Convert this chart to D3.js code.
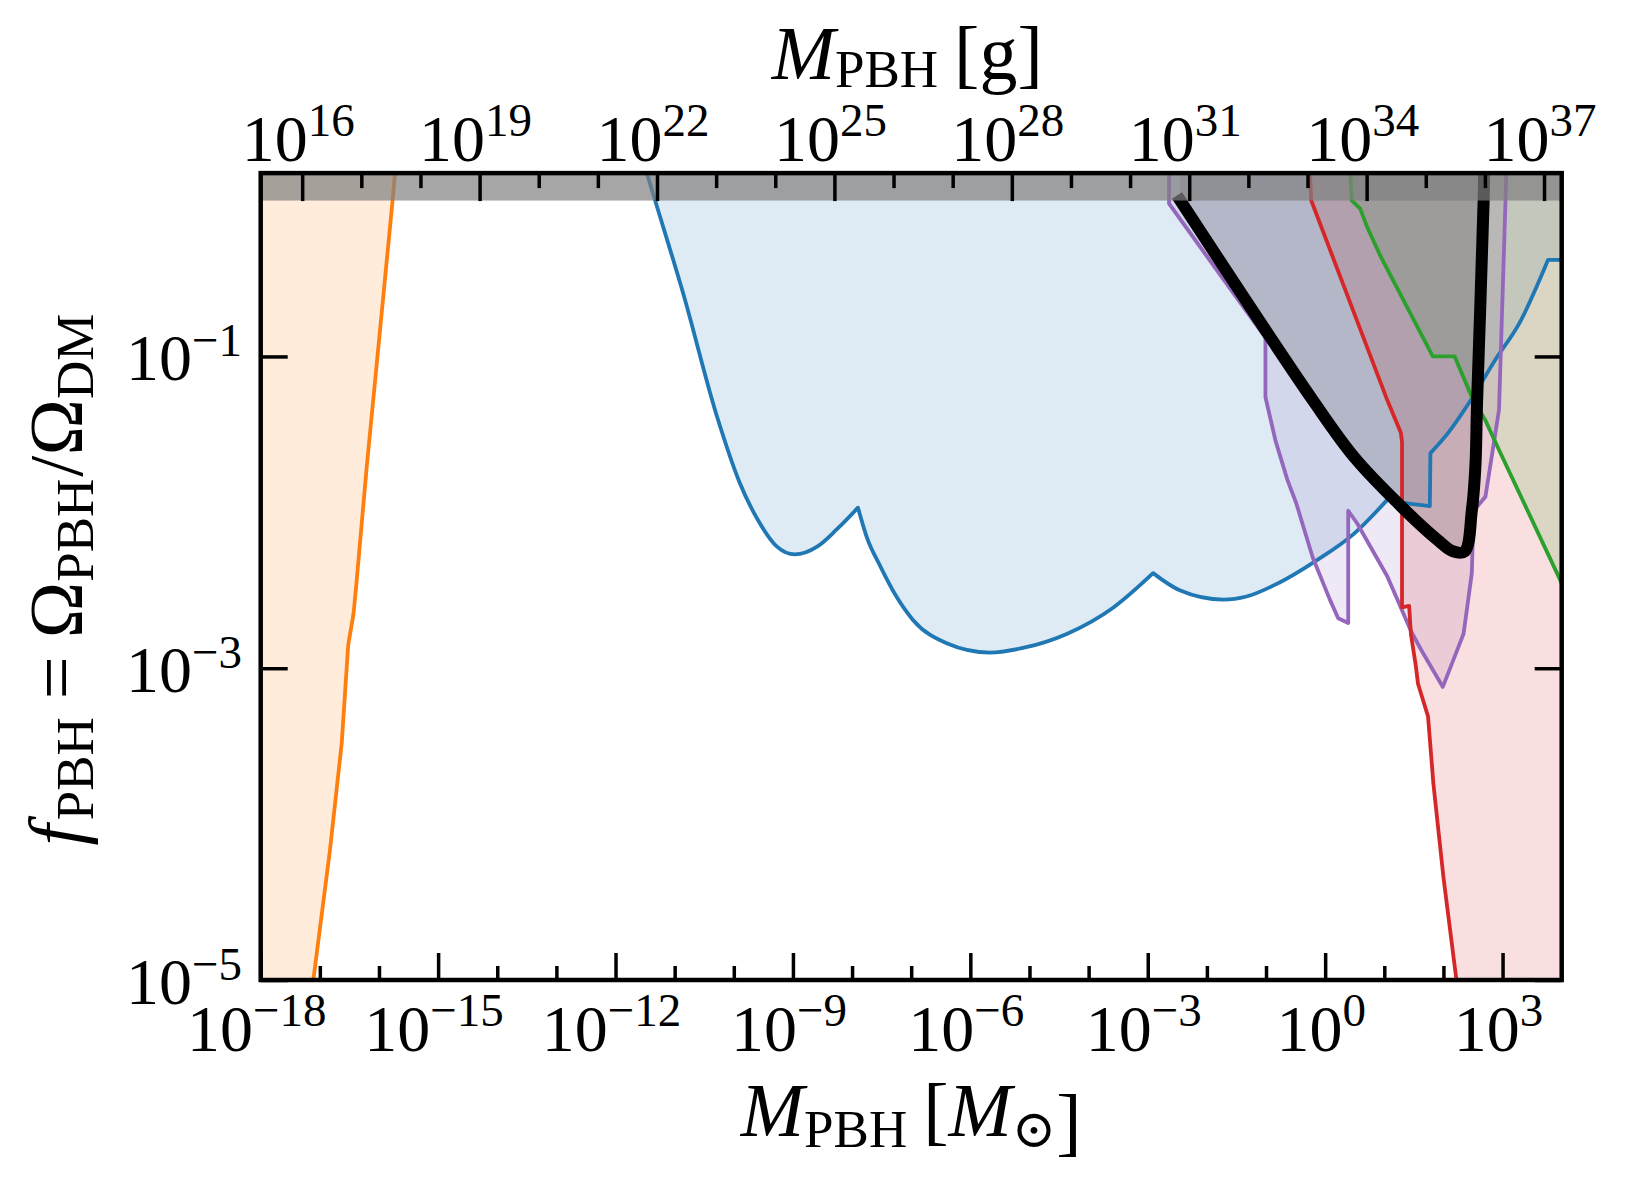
<!DOCTYPE html>
<html>
<head>
<meta charset="utf-8">
<script src="https://cdn.jsdelivr.net/npm/d3@7"></script>
<style>
  body { margin: 0; background: #fff; }
  svg { display: block; }
  text { font-family: "Liberation Serif", "Times New Roman", serif; fill: #000; }
</style>
</head>
<body>
<div id="chart"></div>
<script>
// Constraint curves, as [log10(M / Msun), log10(f_PBH)]
const evaporation = [[-15.70, 0.30], [-15.77, 0.00], [-16.00, -0.90], [-16.21, -1.72], [-16.38, -2.45],
  [-16.43, -2.65], [-16.52, -2.85], [-16.63, -3.48], [-16.83, -4.17], [-17.11, -5.00], [-17.21, -5.30]];

// blue bound, split at its kinks (each piece is drawn smooth)
const microlensing = [
  [[-11.49, 0.20], [-11.33, 0.00], [-10.86, -0.59], [-10.28, -1.39], [-9.90, -1.81], [-9.56, -2.07],
   [-9.27, -2.22], [-8.97, -2.27], [-8.59, -2.22], [-8.26, -2.11], [-7.90, -1.97]],
  [[-7.90, -1.97], [-7.75, -2.16], [-7.53, -2.34], [-7.25, -2.54], [-6.97, -2.69], [-6.40, -2.84],
   [-5.67, -2.90], [-5.11, -2.87], [-4.37, -2.78], [-3.58, -2.61], [-2.91, -2.39]],
  [[-2.91, -2.39], [-2.46, -2.50], [-1.72, -2.56], [-1.33, -2.54], [-0.77, -2.45], [-0.15, -2.31],
   [0.48, -2.14], [1.05, -1.92]],
  [[1.05, -1.92], [1.34, -1.94], [1.77, -1.96]],
  [[1.77, -1.96], [1.78, -1.62]],
  [[1.78, -1.62], [2.08, -1.49], [2.48, -1.27], [2.88, -1.02], [3.28, -0.79], [3.77, -0.38]],
  [[3.77, -0.38], [4.00, -0.38]]
];

const purpleBound = [[-2.64, 0.30], [-2.64, -0.02], [-1.01, -0.88], [-1.01, -1.26], [-0.84, -1.54],
  [-0.64, -1.79], [-0.49, -1.94], [-0.21, -2.29], [0.08, -2.56], [0.22, -2.68], [0.39, -2.71],
  [0.39, -1.99], [0.54, -2.07], [1.05, -2.41], [1.45, -2.76], [1.62, -2.88], [1.99, -3.12],
  [2.34, -2.78], [2.48, -2.39], [2.51, -1.99], [2.71, -1.90], [2.88, -1.49], [2.94, -1.34],
  [3.05, 0.00], [3.07, 0.30]];

const redBound = [[-0.26, 0.20], [-0.235, 0.00], [1.05, -1.28], [1.28, -1.49], [1.30, -1.55],
  [1.30, -2.61], [1.42, -2.60], [1.45, -2.78], [1.535, -2.99], [1.57, -3.10], [1.74, -3.31],
  [1.83, -3.74], [2.00, -4.34], [2.22, -5.00], [2.27, -5.30]];

const greenBound = [[0.41, 0.30], [0.45, 0.00], [0.59, -0.05], [0.71, -0.17], [0.94, -0.36],
  [1.82, -1.00], [2.19, -1.00], [2.48, -1.26], [2.71, -1.41], [2.94, -1.60], [3.97, -2.43],
  [4.00, -2.46]];

const combined = [[-2.45, 0.00], [-0.21, -1.28], [0.50, -1.65], [1.28, -1.96], [1.91, -2.18],
  [2.16, -2.25], [2.36, -2.25], [2.48, -1.99], [2.54, -1.71], [2.57, -1.28], [2.68, 0.00],
  [2.69, 0.30]];

// Tick exponents
const xTickExp = [-18, -15, -12, -9, -6, -3, 0, 3];
const gramTickExp = [16, 19, 22, 25, 28, 31, 34, 37];
const yTickExp = [-1, -3, -5];

const solarMassGrams = 1.989e33;

// Set the dimensions and margins of the graph
const width = 1630, height = 1183;
const margin = { top: 173.1, right: 68.3, bottom: 203, left: 260.7 };

const svg = d3.select("#chart")
    .append("svg")
    .attr("width", width)
    .attr("height", height);

svg.append("rect")
    .attr("width", width)
    .attr("height", height)
    .attr("fill", "white");

const x = d3.scaleLog()
    .domain([1e-18, 1e4])
    .range([margin.left, width - margin.right]);

const xg = d3.scaleLog()
    .domain([1e-18 * solarMassGrams, 1e4 * solarMassGrams])
    .range(x.range());

const y = d3.scaleLog()
    .domain([1e-5, 1.5])
    .range([height - margin.bottom, margin.top]);

const xLoExp = Math.log10(x.domain()[0]);
const xHiExp = Math.log10(x.domain()[1]);
const yHiExp = Math.log10(y.domain()[1]);

svg.append("clipPath")
    .attr("id", "plot-clip")
    .append("rect")
    .attr("x", x.range()[0])
    .attr("y", y.range()[1])
    .attr("width", x.range()[1] - x.range()[0])
    .attr("height", y.range()[0] - y.range()[1]);

const px = d => x(10 ** d[0]);
const py = d => y(10 ** d[1]);

// Path through a list of pieces, joined into one subpath
function tracePath(pieces, curve) {
    const gen = d3.line().x(px).y(py).curve(curve);
    return pieces.map((p, i) => {
        const s = gen(p);
        return i === 0 ? s : "L" + s.slice(1);
    }).join("");
}

// Close a boundary curve into the excluded region
function closure(pieces, side) {
    const first = pieces[0][0];
    const lastPiece = pieces[pieces.length - 1];
    const last = lastPiece[lastPiece.length - 1];
    const up = yHiExp + 1;
    let pts;
    if (side === "above") pts = [[last[0], up], [first[0], up]];
    else if (side === "right") pts = [[xHiExp + 1, last[1]], [xHiExp + 1, up], [first[0], up]];
    else pts = [[xLoExp - 1, last[1]], [xLoExp - 1, up], [first[0], up]];
    return pts.map(p => `L${px(p)},${py(p)}`).join("") + "Z";
}

const constraints = [
    { pieces: [evaporation], side: "left", color: "#ff7f0e", curve: d3.curveLinear },
    { pieces: microlensing, side: "above", color: "#1f77b4", curve: d3.curveMonotoneX },
    { pieces: [purpleBound], side: "above", color: "#9467bd", curve: d3.curveLinear },
    { pieces: [redBound], side: "right", color: "#d62728", curve: d3.curveLinear },
    { pieces: [greenBound], side: "right", color: "#2ca02c", curve: d3.curveLinear }
];

const plot = svg.append("g").attr("clip-path", "url(#plot-clip)");

// Shaded regions
plot.selectAll(".area")
    .data(constraints)
    .join("path")
    .attr("class", "area")
    .attr("d", d => tracePath(d.pieces, d.curve) + closure(d.pieces, d.side))
    .attr("fill", d => d.color)
    .attr("fill-opacity", 0.15);

const blackCurve = d3.curveCatmullRom.alpha(0.5);

plot.append("path")
    .attr("d", tracePath([combined], blackCurve) + closure([combined], "above"))
    .attr("fill", "black")
    .attr("fill-opacity", 0.15);

// Boundary lines
plot.selectAll(".bound")
    .data(constraints)
    .join("path")
    .attr("class", "bound")
    .attr("d", d => tracePath(d.pieces, d.curve))
    .attr("fill", "none")
    .attr("stroke", d => d.color)
    .attr("stroke-width", 3.8)
    .attr("stroke-linejoin", "round");

plot.append("path")
    .attr("d", tracePath([combined], blackCurve))
    .attr("fill", "none")
    .attr("stroke", "black")
    .attr("stroke-width", 12)
    .attr("stroke-linejoin", "round")
    .attr("stroke-linecap", "square");

// f > 1 band
plot.append("rect")
    .attr("x", x.range()[0])
    .attr("y", y(1.5))
    .attr("width", x.range()[1] - x.range()[0])
    .attr("height", y(1) - y(1.5))
    .attr("fill", "#808080")
    .attr("opacity", 0.7);

// Axes (inward ticks, labels drawn separately)
const majorLen = 27, minorLen = 14;
const xMinor = d3.range(-17, 4).filter(e => !xTickExp.includes(e)).map(e => 10 ** e);
const gMinor = d3.range(16, 38).filter(e => !gramTickExp.includes(e)).map(e => 10 ** e);

function tickStyle(g) {
    g.select(".domain").remove();
    g.selectAll(".tick line").attr("stroke", "black").attr("stroke-width", 3.5);
}

const yBottom = y.range()[0], yTop = y.range()[1];

svg.append("g").attr("transform", `translate(0,${yBottom})`)
    .call(d3.axisBottom(x).tickValues(xTickExp.map(e => 10 ** e)).tickSize(-majorLen).tickFormat(""))
    .call(tickStyle);
svg.append("g").attr("transform", `translate(0,${yBottom})`)
    .call(d3.axisBottom(x).tickValues(xMinor).tickSize(-minorLen).tickFormat(""))
    .call(tickStyle);
svg.append("g").attr("transform", `translate(0,${yTop})`)
    .call(d3.axisTop(xg).tickValues(gramTickExp.map(e => 10 ** e)).tickSize(-majorLen - 1).tickFormat(""))
    .call(tickStyle);
svg.append("g").attr("transform", `translate(0,${yTop})`)
    .call(d3.axisTop(xg).tickValues(gMinor).tickSize(-minorLen - 1).tickFormat(""))
    .call(tickStyle);
svg.append("g").attr("transform", `translate(${x.range()[0]},0)`)
    .call(d3.axisLeft(y).tickValues(yTickExp.map(e => 10 ** e)).tickSize(-majorLen).tickFormat(""))
    .call(tickStyle);
svg.append("g").attr("transform", `translate(${x.range()[1]},0)`)
    .call(d3.axisRight(y).tickValues(yTickExp.map(e => 10 ** e)).tickSize(-majorLen).tickFormat(""))
    .call(tickStyle);

// Frame
svg.append("rect")
    .attr("x", x.range()[0])
    .attr("y", yTop)
    .attr("width", x.range()[1] - x.range()[0])
    .attr("height", yBottom - yTop)
    .attr("fill", "none")
    .attr("stroke", "black")
    .attr("stroke-width", 4.5);

// Power-of-ten tick labels
const tickBase = 66, tickSup = 47;

function powerLabel(text, exp, rise) {
    text.append("tspan").attr("font-size", tickBase).text("10");
    text.append("tspan")
        .attr("font-size", tickSup)
        .attr("dy", -rise)
        .text(exp < 0 ? "\u2212" + (-exp) : String(exp));
}

svg.append("g").selectAll("text")
    .data(xTickExp)
    .join("text")
    .attr("x", d => x(10 ** d) - 4)
    .attr("y", 1051)
    .attr("text-anchor", "middle")
    .each(function (d) { powerLabel(d3.select(this), d, 25); });

svg.append("g").selectAll("text")
    .data(gramTickExp)
    .join("text")
    .attr("x", d => xg(10 ** d) - 4)
    .attr("y", 161)
    .attr("text-anchor", "middle")
    .each(function (d) { powerLabel(d3.select(this), d, 25); });

svg.append("g").selectAll("text")
    .data(yTickExp)
    .join("text")
    .attr("x", 242)
    .attr("y", d => y(10 ** d) + 24)
    .attr("text-anchor", "end")
    .each(function (d) { powerLabel(d3.select(this), d, 24); });

// Axis titles
const labelSize = 76, subSize = 53, subDrop = 11;
const xMid = (x.range()[0] + x.range()[1]) / 2;

function massLabel(text, unitParts, drop) {
    text.append("tspan").attr("font-style", "italic").text("M");
    text.append("tspan").attr("font-size", subSize).attr("dy", drop).text("PBH");
    text.append("tspan").attr("dy", -drop).attr("dx", 16).text("[");
    unitParts(text);
    text.append("tspan").text("]");
}

const bottomLabel = svg.append("text")
    .attr("x", xMid)
    .attr("y", 1136)
    .attr("text-anchor", "middle")
    .attr("font-size", labelSize);
massLabel(bottomLabel, t => {
    t.append("tspan").attr("font-style", "italic").text("M");
    t.append("tspan").attr("font-size", subSize).attr("dy", subDrop)
        .attr("font-family", "DejaVu Serif").text("\u2299");
    t.append("tspan").attr("dy", -subDrop).text("");
}, subDrop);

const topLabel = svg.append("text")
    .attr("x", xMid - 4)
    .attr("y", 79)
    .attr("text-anchor", "middle")
    .attr("font-size", labelSize);
massLabel(topLabel, t => {
    t.append("tspan").text("g");
}, 8);

const yLabel = svg.append("text")
    .attr("transform", `translate(82,${(yTop + yBottom) / 2 + 3}) rotate(-90)`)
    .attr("text-anchor", "middle")
    .attr("font-size", labelSize);
yLabel.append("tspan").attr("font-style", "italic").text("f");
yLabel.append("tspan").attr("font-size", subSize).attr("dy", subDrop).attr("dx", 4).text("PBH");
yLabel.append("tspan").attr("dy", -subDrop).attr("dx", 18).text("=");
yLabel.append("tspan").attr("dx", 18).text("\u03a9");
yLabel.append("tspan").attr("font-size", subSize).attr("dy", subDrop).text("PBH");
yLabel.append("tspan").attr("dy", -subDrop).attr("dx", 2).text("/\u03a9");
yLabel.append("tspan").attr("font-size", subSize).attr("dy", subDrop).text("DM");
</script>
</body>
</html>
